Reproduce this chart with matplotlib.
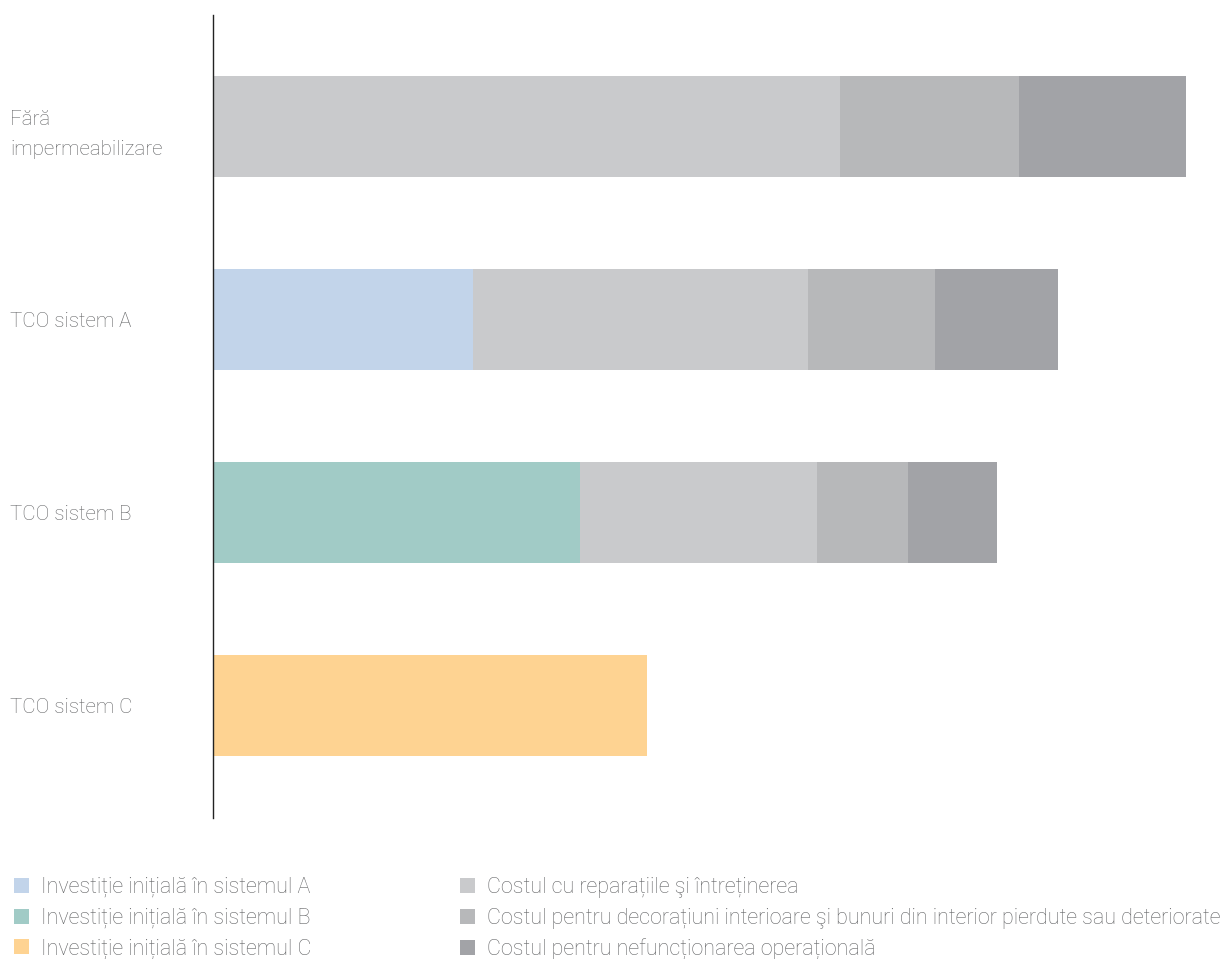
import matplotlib.pyplot as plt
from matplotlib.patches import Patch

plt.rcParams['font.family'] = ['Roboto', 'DejaVu Sans']
plt.rcParams['font.weight'] = 'light'

categories = ['Fără\nimpermeabilizare', 'TCO sistem A', 'TCO sistem B', 'TCO sistem C']

# initial investment per system (only one per row)
inv_a = [0, 260, 0, 0]
inv_b = [0, 0, 367, 0]
inv_c = [0, 0, 0, 434]
# cost components
repairs = [627, 335, 237, 0]
decor = [179, 127, 91, 0]
downtime = [167, 123, 89, 0]

series = [
    ('Investiție inițială în sistemul A', inv_a, '#c2d4ea'),
    ('Investiție inițială în sistemul B', inv_b, '#a1cbc6'),
    ('Investiție inițială în sistemul C', inv_c, '#fed392'),
    ('Costul cu reparațiile şi întreținerea', repairs, '#c9cacc'),
    ('Costul pentru decorațiuni interioare şi bunuri din interior pierdute sau deteriorate', decor, '#b7b8ba'),
    ('Costul pentru nefuncționarea operațională', downtime, '#a2a3a7'),
]

text_col = '#646567'

fig = plt.figure(figsize=(12.32, 9.59), dpi=100)
ax = fig.add_axes([213 / 1232, 1 - 818 / 959, 1 - 213 / 1232, (818 - 15) / 959])

y = range(len(categories))
left = [0] * len(categories)
for name, vals, col in series:
    ax.barh(y, vals, left=left, height=0.523, color=col, linewidth=0)
    left = [l + v for l, v in zip(left, vals)]

ax.set_xlim(0, 1019)
ax.set_ylim(3.583, -0.578)
ax.set_xticks([])
ax.set_yticks(list(y))
ax.set_yticklabels(categories, fontsize=14.8, color=text_col, linespacing=1.75)
ax.tick_params(axis='y', length=0, pad=146)
for lab in ax.get_yticklabels():
    lab.set_horizontalalignment('left')
for s in ['top', 'right', 'bottom']:
    ax.spines[s].set_visible(False)
ax.spines['left'].set_color('#222222')
ax.spines['left'].set_linewidth(1)

handles = [Patch(facecolor=c, edgecolor='none', label=n) for n, _, c in series]
leg_kw = dict(loc='upper left', frameon=False, fontsize=15.5, labelcolor=text_col,
              handlelength=0.7, handleheight=0.7, handletextpad=0.55, labelspacing=0.45,
              borderaxespad=0, borderpad=0)
fig.legend(handles=handles[:3], bbox_to_anchor=(14 / 1232, 1 - 877 / 959), **leg_kw)
fig.legend(handles=handles[3:], bbox_to_anchor=(460 / 1232, 1 - 877 / 959), **leg_kw)

fig.savefig('out.png', dpi=100, facecolor='white')
